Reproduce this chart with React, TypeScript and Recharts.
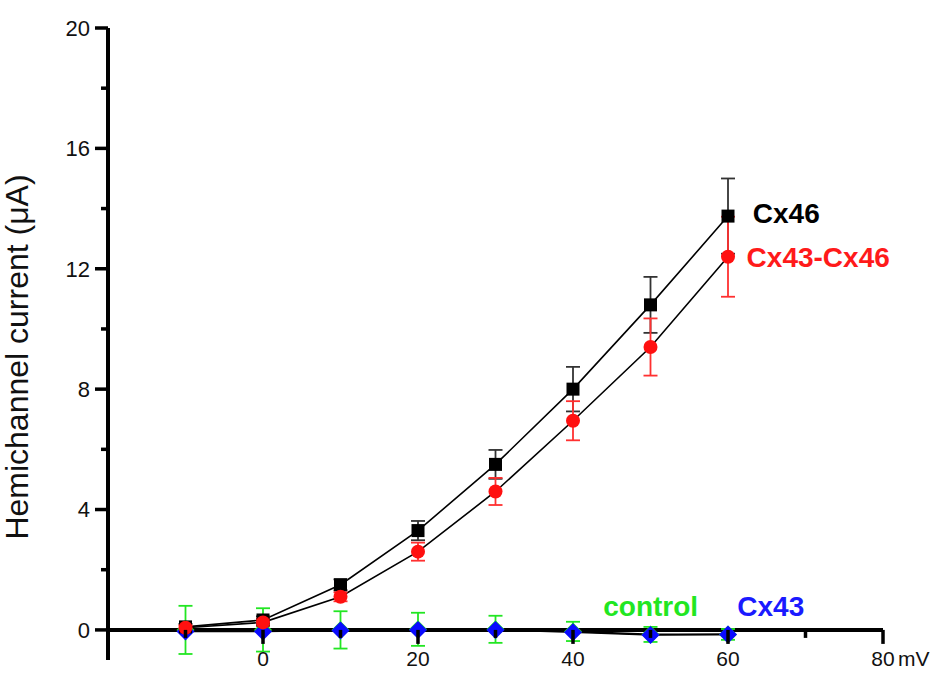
import { ComposedChart, Line, Scatter, XAxis, YAxis, ErrorBar, ReferenceLine, ReferenceDot } from 'recharts';

// membrane voltage (mV)
const VOLTAGES = [-10, 0, 10, 20, 30, 40, 50, 60];

// hemichannel current (uA), means and error
const CX46 = [0.1, 0.33, 1.5, 3.3, 5.5, 8.0, 10.8, 13.75];
const CX46_ERR = [0.1, 0.12, 0.18, 0.32, 0.48, 0.74, 0.93, 1.25];
const CX43_CX46 = [0.07, 0.25, 1.1, 2.6, 4.6, 6.95, 9.4, 12.4];
const CX43_CX46_ERR = [0.08, 0.12, 0.15, 0.3, 0.45, 0.65, 0.95, 1.33];
const CONTROL = [0, 0, 0, 0.02, 0.02, -0.05, -0.15, -0.15];
const CONTROL_ERR = [0.8, 0.72, 0.62, 0.55, 0.45, 0.32, 0.25, 0.18];
const CX43 = [-0.05, -0.05, -0.02, 0, 0, -0.08, -0.17, -0.15];

const X_TICKS = [-10, 0, 10, 20, 30, 40, 50, 60, 70, 80];
const Y_TICKS = [0, 2, 4, 6, 8, 10, 12, 14, 16, 18, 20];

const SERIES_LABELS = [
  { text: 'Cx46', x: 63.2, y: 13.85, color: '#000000' },
  { text: 'Cx43-Cx46', x: 62.4, y: 12.4, color: '#ff1a1a' },
  { text: 'control', x: 43.9, y: 0.8, color: '#22e622' },
  { text: 'Cx43', x: 61.2, y: 0.8, color: '#1a1aff' },
];

const FONT = '"Liberation Sans", Arial, sans-serif';
const W = 939;
const H = 673;
const MARGIN = { top: 28, right: 56, bottom: 0, left: 0 };
const Y_AXIS_W = 108;
const X_AXIS_H = 13;
const Y_MIN = -1;
const Y_MAX = 20;
const PLOT_BOTTOM = H - MARGIN.bottom - X_AXIS_H;
const ZERO_Y = MARGIN.top + (PLOT_BOTTOM - MARGIN.top) * (Y_MAX / (Y_MAX - Y_MIN));
const AXIS_W = 4;

const rows = (ys: number[], errs?: number[]) =>
  VOLTAGES.map((x, i) => ({ x, y: ys[i], err: errs ? errs[i] : 0 }));

const cx46Data = rows(CX46, CX46_ERR);
const cx43cx46Data = rows(CX43_CX46, CX43_CX46_ERR);
const controlData = rows(CONTROL, CONTROL_ERR);
const cx43Data = rows(CX43);

function XTick(props: any) {
  const { x, payload } = props;
  const v = payload.value;
  const major = v % 20 === 0;
  return (
    <g>
      <line x1={x} x2={x} y1={ZERO_Y} y2={ZERO_Y + (major ? 14 : 8)} stroke="#000" strokeWidth={AXIS_W - 0.5} />
      {major && (
        <text x={x} y={ZERO_Y + 36} textAnchor="middle" fontSize={21} fontFamily={FONT} fill="#111">
          {v}
        </text>
      )}
      {v === 80 && (
        <text x={x + 15} y={ZERO_Y + 36} fontSize={21} fontFamily={FONT} fill="#111">
          mV
        </text>
      )}
    </g>
  );
}

function YTick(props: any) {
  const { y, payload } = props;
  const v = payload.value;
  const major = v % 4 === 0;
  return (
    <g>
      <line x1={Y_AXIS_W} x2={Y_AXIS_W - (major ? 13 : 7)} y1={y} y2={y} stroke="#000" strokeWidth={AXIS_W - 0.5} />
      {major && (
        <text x={Y_AXIS_W - 18} y={y} dy="0.36em" textAnchor="end" fontSize={22} fontFamily={FONT} fill="#111">
          {v}
        </text>
      )}
    </g>
  );
}

const square = (p: any) => <rect x={p.cx - 6.5} y={p.cy - 6.5} width={13} height={13} fill="#000" />;
const circle = (p: any) => <circle cx={p.cx} cy={p.cy} r={7} fill="#ff1010" />;
const diamond = (color: string) => (p: any) => (
  <polygon
    points={`${p.cx},${p.cy - 9} ${p.cx + 9},${p.cy} ${p.cx},${p.cy + 9} ${p.cx - 9},${p.cy}`}
    fill={color}
  />
);

export default function App() {
  const midY = (MARGIN.top + PLOT_BOTTOM) / 2;
  return (
    <div style={{ position: 'absolute', left: 0, top: 0, background: '#fff' }}>
      <ComposedChart width={W} height={H} margin={MARGIN}>
        <XAxis
          type="number"
          dataKey="x"
          domain={[-20, 80]}
          ticks={X_TICKS}
          interval={0}
          height={X_AXIS_H}
          axisLine={false}
          tickLine={false}
          tick={<XTick />}
        />
        <YAxis
          type="number"
          domain={[Y_MIN, Y_MAX]}
          ticks={Y_TICKS}
          interval={0}
          width={Y_AXIS_W}
          axisLine={{ stroke: '#000', strokeWidth: AXIS_W }}
          tickLine={false}
          tick={<YTick />}
          label={{
            content: () => (
              <text
                x={0}
                y={0}
                transform={`translate(28, ${midY + 13}) rotate(-90)`}
                textAnchor="middle"
                fontSize={32}
                fontFamily={FONT}
                fill="#111"
              >
                Hemichannel current (μA)
              </text>
            ),
          }}
        />
        <ReferenceLine y={0} stroke="#000" strokeWidth={AXIS_W} />

        <Line data={controlData} dataKey="y" stroke="#000" strokeWidth={1.6} dot={false} isAnimationActive={false} />
        <Line data={cx43Data} dataKey="y" stroke="#000" strokeWidth={1.6} dot={false} isAnimationActive={false} />
        <Line data={cx46Data} dataKey="y" stroke="#000" strokeWidth={1.6} dot={false} isAnimationActive={false} />
        <Line data={cx43cx46Data} dataKey="y" stroke="#000" strokeWidth={1.6} dot={false} isAnimationActive={false} />

        <Scatter data={controlData} dataKey="y" shape={diamond('#22e622')} isAnimationActive={false}>
          <ErrorBar dataKey="err" direction="y" width={7} stroke="#22e622" strokeWidth={1.8} />
        </Scatter>
        <Scatter data={cx43Data} dataKey="y" shape={diamond('#0a0aff')} isAnimationActive={false} />
        <Scatter data={cx46Data} dataKey="y" shape={square} isAnimationActive={false}>
          <ErrorBar dataKey="err" direction="y" width={7} stroke="#333" strokeWidth={1.8} />
        </Scatter>
        <Scatter data={cx43cx46Data} dataKey="y" shape={circle} isAnimationActive={false}>
          <ErrorBar dataKey="err" direction="y" width={7} stroke="#ff3030" strokeWidth={1.8} />
        </Scatter>

        {SERIES_LABELS.map((l) => (
          <ReferenceDot
            key={l.text}
            x={l.x}
            y={l.y}
            r={0}
            fill="none"
            stroke="none"
            label={{
              value: l.text,
              position: 'right',
              offset: 0,
              fill: l.color,
              fontSize: 28,
              fontWeight: 700,
              fontFamily: FONT,
            }}
          />
        ))}
      </ComposedChart>
    </div>
  );
}
